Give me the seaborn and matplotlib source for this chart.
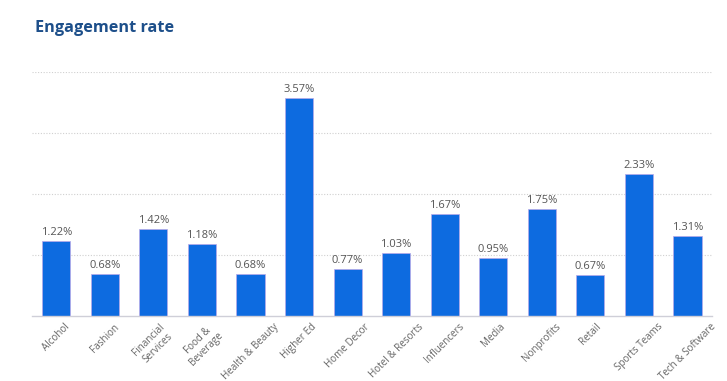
import matplotlib
matplotlib.use("Agg")
import pandas as pd
import seaborn as sns
import matplotlib.pyplot as plt

industries = ["Alcohol", "Fashion", "Financial\nServices", "Food &\nBeverage", "Health & Beauty",
              "Higher Ed", "Home Decor", "Hotel & Resorts", "Influencers", "Media",
              "Nonprofits", "Retail", "Sports Teams", "Tech & Software"]
rates = [1.22, 0.68, 1.42, 1.18, 0.68, 3.57, 0.77, 1.03, 1.67, 0.95, 1.75, 0.67, 2.33, 1.31]

df = pd.DataFrame({"industry": industries, "rate": rates})

sns.set_style("white")
plt.rcParams['font.family'] = ['Open Sans', 'DejaVu Sans']

fig = plt.figure(figsize=(7.27, 3.81), dpi=100)
ax = fig.add_axes([0.044, 0.171, 0.935, 0.64])

sns.barplot(data=df, x="industry", y="rate", color="#0d6be0", saturation=1,
            width=0.58, ax=ax, edgecolor="#b9a9e8", linewidth=0.5)

ax.set_ylim(0, 4)
ax.set_xlim(-0.5, 13.5)
ax.set_yticks([1, 2, 3, 4])
ax.yaxis.grid(True, linestyle=(0, (1, 1.5)), color="#d0d0d0", linewidth=0.8)
ax.set_axisbelow(True)
ax.tick_params(axis="y", left=False, labelleft=False)
ax.tick_params(axis="x", length=0, pad=4)
for s in ["top", "right", "left"]:
    ax.spines[s].set_visible(False)
ax.spines["bottom"].set_color("#cfcfd8")
ax.spines["bottom"].set_linewidth(1)
ax.set_xlabel("")
ax.set_ylabel("")

for lbl in ax.get_xticklabels():
    lbl.set_rotation(45)
    lbl.set_ha("center")
    lbl.set_va("top")
    lbl.set_rotation_mode("default")
    lbl.set_fontsize(7.1)
    lbl.set_color("#666666")
    lbl.set_multialignment("center")

for i, v in enumerate(rates):
    ax.text(i, v + 0.05, f"{v:.2f}%", ha="center", va="bottom", fontsize=8, color="#555555")

fig.text(0.048, 0.927, "Engagement rate", fontsize=11.7, fontweight="bold", color="#1d4f8a",
         ha="left", va="center")

fig.savefig("out.png", dpi=100)
